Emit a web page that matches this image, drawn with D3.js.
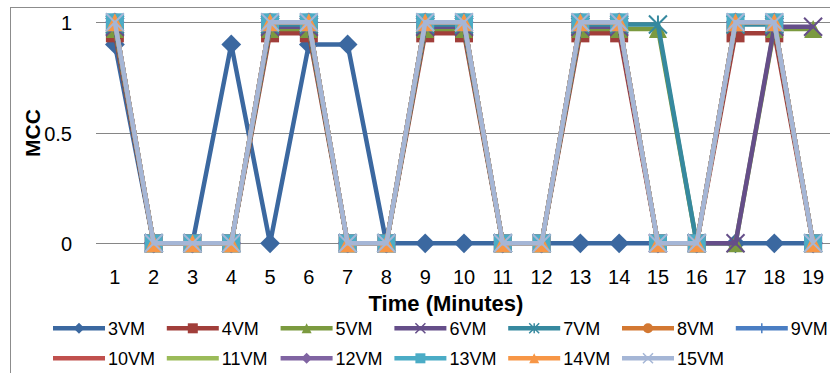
<!DOCTYPE html>
<html><head><meta charset="utf-8">
<script src="https://cdn.jsdelivr.net/npm/d3@7"></script>
<style>body{margin:0;background:#fff}text{font-family:"Liberation Sans",Arial,sans-serif;fill:#000}</style>
</head><body>
<svg id="c" width="830" height="373"></svg>
<script>
// ---- data ----
const times = [1,2,3,4,5,6,7,8,9,10,11,12,13,14,15,16,17,18,19];
const yTicks = [0, 0.5, 1];
const seriesNames = ["3VM","4VM","5VM","6VM","7VM","8VM","9VM","10VM","11VM","12VM","13VM","14VM","15VM"];
const vm3  = [0.9,0,0,0.9,0,0.9,0.9,0,0,0,0,0,0,0,0,0,0,0,0];
const vm4  = [0.95,0,0,0,0.95,0.95,0,0,0.95,0.95,0,0,0.95,0.95,0,0,0.95,0.95,0];
const vm5  = [0.97,0,0,0,0.97,0.97,0,0,0.97,0.97,0,0,0.97,0.97,0.97,0,0,0.97,0.97];
const vm6  = [0.98,0,0,0,0.98,0.98,0,0,0.98,0.98,0,0,0.98,0.98,0,0,0,0.98,0.98];
const vm7  = [0.99,0,0,0,0.99,0.99,0,0,0.99,0.99,0,0,0.99,0.99,0.99,0,0.99,0.99,0];
const vm8  = [1,0,0,0,1,1,0,0,1,1,0,0,1,1,0,0,1,1,0];
const vm9  = [1,0,0,0,1,1,0,0,1,1,0,0,1,1,0,0,1,1,0];
const vm10 = [1,0,0,0,1,1,0,0,1,1,0,0,1,1,0,0,1,1,0];
const vm11 = [1,0,0,0,1,1,0,0,1,1,0,0,1,1,0,0,1,1,0];
const vm12 = [1,0,0,0,1,1,0,0,1,1,0,0,1,1,0,0,1,1,0];
const vm13 = [1,0,0,0,1,1,0,0,1,1,0,0,1,1,0,0,1,1,0];
const vm14 = [1,0,0,0,1,1,0,0,1,1,0,0,1,1,0,0,1,1,0];
const vm15 = [1,0,0,0,1,1,0,0,1,1,0,0,1,1,0,0,1,1,0];
const seriesValues = [vm3,vm4,vm5,vm6,vm7,vm8,vm9,vm10,vm11,vm12,vm13,vm14,vm15];
const colors = ["#3B68A0","#A13E3A","#7B9A3F","#654E89","#36899F","#D37832","#4A7EC3","#C0504D","#9BBB59","#8064A2","#4BACC6","#F79646","#A5B6D6"];
const markers = ["diamond","square","triangle","x","star","circle","plus","dash","dash","diamond","square","triangle","x"];

// ---- chart ----
const svg = d3.select("#c");
const x = d3.scaleBand().domain(times).range([95.5, 832.5]);
const y = d3.scaleLinear().domain([0,1]).range([243.3, 22.3]);
const cx = t => x(t) + x.bandwidth()/2;

// chart border
svg.append("rect").attr("x",10.5).attr("y",7.5).attr("width",840).attr("height",400)
  .attr("fill","none").attr("stroke","#8C8C8C").attr("stroke-width",1);

// gridlines
svg.append("g").selectAll("line").data(yTicks).join("line")
  .attr("x1",96).attr("x2",832).attr("y1",d=>Math.round(y(d))+0.5).attr("y2",d=>Math.round(y(d))+0.5)
  .attr("stroke","#868686").attr("stroke-width",1);

// y tick labels
svg.append("g").selectAll("text").data(yTicks).join("text")
  .attr("x",72).attr("y",d=>y(d)+8).attr("text-anchor","end").attr("font-size",20)
  .text(d=>d===0.5?"0.5":d3.format("d")(d));

// x tick labels
svg.append("g").selectAll("text").data(times).join("text")
  .attr("x",d=>cx(d)).attr("y",284).attr("text-anchor","middle").attr("font-size",20)
  .text(d=>d);

// axis titles
svg.append("text").attr("x",446).attr("y",311).attr("text-anchor","middle")
  .attr("font-size",22).attr("font-weight","bold").text("Time (Minutes)");
svg.append("text").attr("transform","translate(40,133) rotate(-90)").attr("text-anchor","middle")
  .attr("font-size",21).attr("font-weight","bold").text("MCC");

function drawMarker(g, type, color, px, py, s) {
  // s = half size
  const m = g.append("g").attr("transform",`translate(${px},${py})`);
  if (type==="diamond") {
    m.append("path").attr("d",`M0,${-s*1.1}L${s*1.1},0L0,${s*1.1}L${-s*1.1},0Z`).attr("fill",color);
  } else if (type==="square") {
    m.append("rect").attr("x",-s).attr("y",-s).attr("width",2*s).attr("height",2*s).attr("fill",color);
  } else if (type==="triangle") {
    m.append("path").attr("d",`M0,${-s}L${s},${s}L${-s},${s}Z`).attr("fill",color);
  } else if (type==="x") {
    m.append("path").attr("d",`M${-s},${-s}L${s},${s}M${s},${-s}L${-s},${s}`).attr("stroke",color).attr("stroke-width",Math.max(1.5,s*0.22)).attr("fill","none");
  } else if (type==="star") {
    m.append("path").attr("d",`M${-s},${-s}L${s},${s}M${s},${-s}L${-s},${s}M0,${-s}L0,${s}`).attr("stroke",color).attr("stroke-width",Math.max(1.5,s*0.22)).attr("fill","none");
  } else if (type==="circle") {
    m.append("circle").attr("r",s).attr("fill",color);
  } else if (type==="plus") {
    m.append("path").attr("d",`M${-s},0L${s},0M0,${-s}L0,${s}`).attr("stroke",color).attr("stroke-width",Math.max(1.5,s*0.22)).attr("fill","none");
  } else if (type==="dash") {
    m.append("rect").attr("x",-s*0.6).attr("y",-2.5).attr("width",s*1.2).attr("height",5).attr("fill",color);
  }
}

const line = d3.line().x((d,i)=>cx(times[i])).y(d=>y(d));
const plot = svg.append("g");
seriesValues.forEach((vals, si) => {
  const g = plot.append("g");
  g.append("path").datum(vals).attr("d",line).attr("fill","none")
    .attr("stroke",colors[si]).attr("stroke-width",4.5).attr("stroke-linejoin","round");
  vals.forEach((v,i)=> drawMarker(g, markers[si], colors[si], cx(times[i]), y(v), 9));
});

// legend
const leg = svg.append("g");
seriesNames.forEach((name, i) => {
  const col = i % 7, row = Math.floor(i/7);
  const lx = 53 + col*113.8, ly = row===0 ? 328.3 : 358.3;
  const g = leg.append("g");
  g.append("line").attr("x1",lx).attr("x2",lx+52).attr("y1",ly).attr("y2",ly)
    .attr("stroke",colors[i]).attr("stroke-width",4.5);
  if (markers[i]!=="dash") drawMarker(g, markers[i], colors[i], lx+26, ly, 5);
  g.append("text").attr("x",lx+55).attr("y",ly+6.5).attr("font-size",18).text(name);
});
</script>
</body></html>
